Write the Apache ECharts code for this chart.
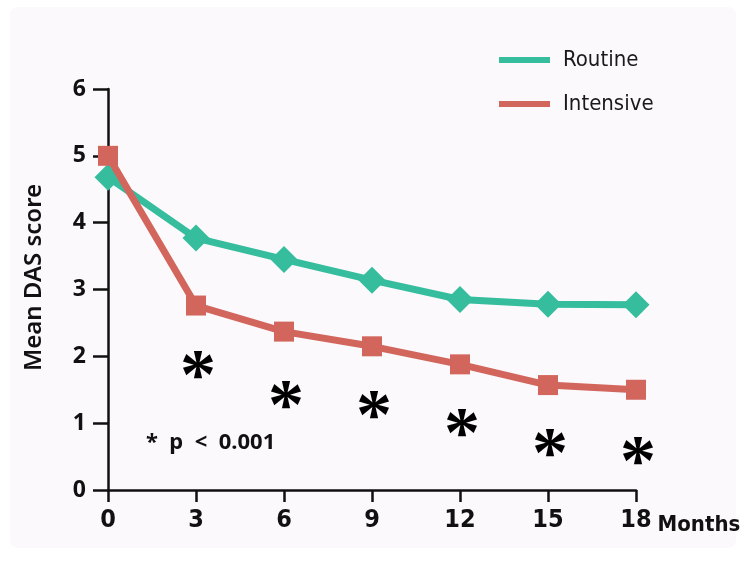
<!DOCTYPE html>
<html>
<head>
<meta charset="utf-8">
<script src="https://cdn.jsdelivr.net/npm/echarts@6/dist/echarts.min.js"></script>
<style>
  html, body { margin: 0; padding: 0; background: #ffffff; }
  #chart { width: 744px; height: 561px; }
</style>
</head>
<body>
<div id="chart"></div>
<script>
// Follow-up months
const months = [0, 3, 6, 9, 12, 15, 18];
// Mean DAS score per arm
const routine = [4.68, 3.77, 3.45, 3.14, 2.85, 2.78, 2.77];
const intensive = [5.0, 2.76, 2.37, 2.15, 1.88, 1.57, 1.5];
// Significance markers placed under each intensive point
const starLevels = [1.87, 1.42, 1.27, 1.0, 0.7, 0.57];
const starMonths = [3, 6, 9, 12, 15, 18];

const seriesNames = ['Routine', 'Intensive'];
const colors = ['#35bd9e', '#d2665d'];

const condensed = '"DejaVu Sans Condensed", "Liberation Sans Narrow", "Liberation Sans", sans-serif';
const humanist = '"Noto Sans", "Open Sans", sans-serif';

const chart = echarts.init(document.getElementById('chart'));

chart.setOption({
  backgroundColor: '#ffffff',
  animation: false,
  graphic: [
    {
      type: 'rect',
      z: -10,
      shape: { x: 10, y: 7, width: 726, height: 541, r: 8 },
      style: { fill: '#fbf9fb' }
    },
    {
      type: 'text',
      left: 146,
      top: 432,
      style: {
        text: '*  p  <  0.001',
        font: 'bold 22px "Noto Sans", "Open Sans", sans-serif',
        fill: '#111111'
      }
    }
  ],
  legend: {
    orient: 'vertical',
    left: 494,
    top: 44,
    icon: 'rect',
    itemWidth: 51,
    itemHeight: 6,
    itemGap: 22,
    textStyle: {
      fontFamily: condensed,
      fontWeight: 500,
      fontSize: 22,
      color: '#1a1a1a',
      padding: [0, 0, 0, 8]
    },
    data: seriesNames
  },
  grid: { left: 108, right: 108, top: 89, bottom: 71 },
  xAxis: {
    type: 'value',
    min: 0,
    max: 18,
    interval: 3,
    name: 'Months',
    nameLocation: 'end',
    nameGap: 10,
    nameTextStyle: {
      fontFamily: condensed,
      fontWeight: 'bold',
      fontSize: 22,
      color: '#111111',
      verticalAlign: 'top',
      padding: [24, 0, 0, 0]
    },
    axisLine: { show: true, onZero: false, lineStyle: { color: '#111111', width: 2.5 } },
    axisTick: { show: true, length: 12, lineStyle: { color: '#111111', width: 2.5 } },
    axisLabel: {
      margin: 18,
      fontFamily: condensed,
      fontWeight: 'bold',
      fontSize: 25,
      color: '#111111'
    },
    splitLine: { show: false }
  },
  yAxis: {
    type: 'value',
    min: 0,
    max: 6,
    interval: 1,
    name: 'Mean DAS score',
    nameLocation: 'middle',
    nameGap: 62,
    nameRotate: 90,
    nameTextStyle: {
      fontFamily: humanist,
      fontWeight: 600,
      fontSize: 24,
      color: '#111111',
      padding: [0, 0, 0, 24]
    },
    axisLine: { show: true, lineStyle: { color: '#111111', width: 2.5 } },
    axisTick: { show: true, length: 15, lineStyle: { color: '#111111', width: 2.5 } },
    axisLabel: {
      margin: 22,
      fontFamily: humanist,
      fontWeight: 'bold',
      fontSize: 23,
      color: '#111111'
    },
    splitLine: { show: false }
  },
  series: [
    {
      name: seriesNames[0],
      type: 'line',
      data: months.map((m, i) => [m, routine[i]]),
      symbol: 'diamond',
      symbolSize: [27, 27],
      lineStyle: { color: colors[0], width: 7 },
      itemStyle: { color: colors[0] },
      z: 3
    },
    {
      name: seriesNames[1],
      type: 'line',
      data: months.map((m, i) => [m, intensive[i]]),
      symbol: 'rect',
      symbolSize: 20,
      lineStyle: { color: colors[1], width: 7 },
      itemStyle: { color: colors[1] },
      z: 4
    },
    {
      name: 'p',
      type: 'scatter',
      data: starMonths.map((m, i) => [m, starLevels[i]]),
      symbolSize: 0,
      itemStyle: { color: '#000000', opacity: 1 },
      silent: true,
      label: {
        show: true,
        position: 'inside',
        formatter: '*',
        fontFamily: '"Liberation Serif", serif',
        fontWeight: 'bold',
        fontSize: 72,
        color: '#000000',
        opacity: 1,
        offset: [2, 14]
      }
    }
  ]
});
</script>
</body>
</html>
